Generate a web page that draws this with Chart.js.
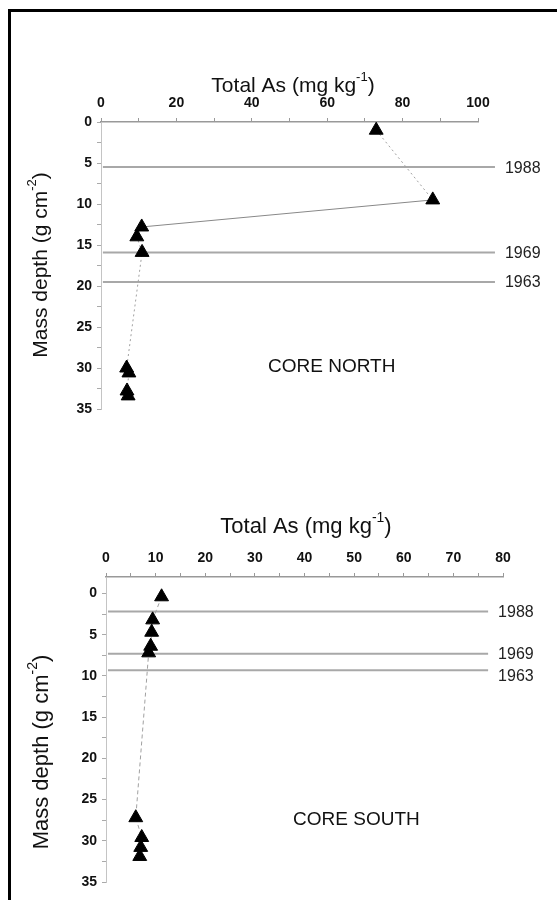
<!DOCTYPE html>
<html>
<head>
<meta charset="utf-8">
<script src="https://cdn.jsdelivr.net/npm/chart.js@4.4.1/dist/chart.umd.min.js"></script>
<style>
  html, body { margin: 0; padding: 0; background: #fff; }
  body { width: 557px; height: 900px; position: relative; overflow: hidden; }
  #frame { position: absolute; left: 8px; top: 9px; width: 600px; height: 1000px;
           border-top: 3px solid #000; border-left: 3px solid #000; }
  canvas { position: absolute; left: 0; }
  #north { top: 0; }
  #south { top: 440px; }
</style>
</head>
<body>
<div id="frame"></div>
<canvas id="north" width="557" height="440"></canvas>
<canvas id="south" width="557" height="460"></canvas>
<script>
// core north: total As vs mass depth
const northAs    = [73, 88, 10.8, 9.5, 10.9, 6.8, 7.4, 6.9, 7.2];
const northDepth = [1.0, 9.5, 12.8, 14.0, 15.9, 30.0, 30.6, 32.8, 33.4];
// core south
const southAs    = [11.2, 9.4, 9.2, 9.0, 8.6, 6.0, 7.2, 7.0, 6.8];
const southDepth = [0.4, 3.2, 4.7, 6.4, 7.2, 27.2, 29.6, 30.8, 31.9];

// dating horizons
const years = ['1988', '1969', '1963'];
const northYearDepth = [5.5, 15.9, 19.5];
const southYearDepth = [2.2, 7.3, 9.3];
const northYearSpan = [0.5, 104.5];
const southYearSpan = [0.4, 77];

// ticks
const northAsTicks = [0, 10, 20, 30, 40, 50, 60, 70, 80, 90, 100];
const southAsTicks = [0, 5, 10, 15, 20, 25, 30, 35, 40, 45, 50, 55, 60, 65, 70, 75, 80];
const depthTicks = [0, 2.5, 5, 7.5, 10, 12.5, 15, 17.5, 20, 22.5, 25, 27.5, 30, 32.5, 35];

const FONT = "'Liberation Sans', Arial, sans-serif";

function drawRich(ctx, parts, cx, cy, size, angle) {
  const supSize = Math.round(size * 0.62);
  const widths = parts.map(([t, sup]) => {
    ctx.font = `${sup ? supSize : size}px ${FONT}`;
    return ctx.measureText(t).width;
  });
  const total = widths.reduce((a, b) => a + b, 0);
  ctx.save();
  ctx.translate(cx, cy);
  ctx.rotate(angle);
  ctx.textBaseline = 'middle';
  ctx.textAlign = 'left';
  ctx.fillStyle = '#111';
  let x = -total / 2;
  parts.forEach(([t, sup], i) => {
    ctx.font = `${sup ? supSize : size}px ${FONT}`;
    ctx.fillText(t, x, sup ? -size * 0.42 : 0);
    x += widths[i];
  });
  ctx.restore();
}

// axis titles with superscripts, year labels and core name
const annotations = {
  id: 'annotations',
  afterDraw(chart, args, opts) {
    const ctx = chart.ctx;
    const { x: xs, y: ys } = chart.scales;
    opts.titles.forEach(t => drawRich(ctx, t.parts, t.x, t.y, t.size, t.angle || 0));

    ctx.save();
    ctx.fillStyle = '#222';
    ctx.textAlign = 'left';
    ctx.textBaseline = 'middle';
    ctx.font = `16px ${FONT}`;
    const endX = xs.getPixelForValue(opts.yearSpan[1]) + 10;
    let lastY = -100;
    years.forEach((yr, i) => {
      // keep labels of close horizons from touching
      const y = Math.max(ys.getPixelForValue(opts.yearDepth[i]) + 1, lastY + 22);
      ctx.fillText(yr, endX, y);
      lastY = y;
    });
    ctx.font = `19px ${FONT}`;
    ctx.fillStyle = '#111';
    ctx.fillText(opts.core.text, xs.getPixelForValue(opts.core.x), ys.getPixelForValue(opts.core.y));
    ctx.restore();
  }
};

function makeChart(el, cfg) {
  const seriesData = cfg.as.map((x, i) => ({ x, y: cfg.depth[i] }));
  const yearSets = cfg.yearDepth.map(d => ({
    data: [{ x: cfg.yearSpan[0], y: d }, { x: cfg.yearSpan[1], y: d }],
    showLine: true,
    borderColor: '#a8a8a8',
    borderWidth: 2,
    pointRadius: 0,
    clip: false
  }));

  return new Chart(el, {
    type: 'scatter',
    data: {
      datasets: [{
        data: seriesData,
        showLine: true,
        borderColor: '#a0a0a0',
        borderWidth: 1,
        borderDash: cfg.dash,
        segment: {
          borderDash: ctx => ctx.p0DataIndex === cfg.solidSegment ? [] : cfg.dash,
          borderColor: ctx => ctx.p0DataIndex === cfg.solidSegment ? '#888' : '#a0a0a0'
        },
        pointStyle: 'triangle',
        pointRadius: 8,
        pointBackgroundColor: '#000',
        pointBorderColor: '#000',
        pointBorderWidth: 1
      }, ...yearSets]
    },
    options: {
      responsive: false,
      animation: false,
      devicePixelRatio: 1,
      events: [],
      layout: { padding: cfg.padding },
      plugins: {
        legend: { display: false },
        tooltip: { enabled: false },
        annotations: {
          titles: cfg.titles,
          yearSpan: cfg.yearSpan,
          yearDepth: cfg.yearDepth,
          core: cfg.core
        }
      },
      scales: {
        x: {
          type: 'linear',
          position: 'top',
          min: cfg.xMin,
          max: cfg.xMax,
          afterBuildTicks: axis => { axis.ticks = cfg.xTicks.map(v => ({ value: v })); },
          afterFit: axis => { axis.height = cfg.xAxisHeight; },
          ticks: {
            autoSkip: false,
            maxRotation: 0,
            padding: 6,
            color: '#111',
            font: { family: FONT, size: 14, weight: 'bold' },
            callback: v => (v % cfg.xLabelStep === 0 ? v : '')
          },
          grid: { drawOnChartArea: false, tickLength: 4, color: '#999' },
          border: { color: '#999', width: 1.5 }
        },
        y: {
          type: 'linear',
          reverse: true,
          min: cfg.yMin,
          max: 35,
          afterBuildTicks: axis => { axis.ticks = depthTicks.map(v => ({ value: v })); },
          afterFit: axis => { axis.width = cfg.yAxisWidth; },
          ticks: {
            autoSkip: false,
            padding: 5,
            color: '#111',
            font: { family: FONT, size: 14, weight: 'bold' },
            callback: v => (v % 5 === 0 ? v : '')
          },
          grid: { drawOnChartArea: false, tickLength: 4, color: '#aaa' },
          border: { color: '#c4c4c4', width: 1 }
        }
      }
    },
    plugins: [annotations]
  });
}

makeChart(document.getElementById('north'), {
  as: northAs,
  depth: northDepth,
  dash: [2, 3],
  solidSegment: 1,
  yearDepth: northYearDepth,
  yearSpan: northYearSpan,
  xMin: 0, xMax: 100, xTicks: northAsTicks, xLabelStep: 20,
  yMin: 0,
  xAxisHeight: 122, yAxisWidth: 101,
  padding: { top: 0, left: 0, right: 79, bottom: 31 },
  core: { text: 'CORE NORTH', x: 44.3, y: 29.8 },
  titles: [
    { parts: [['Total As (mg kg', 0], ['-1', 1], [')', 0]], x: 293, y: 86, size: 21 },
    { parts: [['Mass depth (g cm', 0], ['-2', 1], [')', 0]], x: 41, y: 265, size: 21, angle: -Math.PI / 2 }
  ]
});

makeChart(document.getElementById('south'), {
  as: southAs,
  depth: southDepth,
  dash: [4, 3],
  solidSegment: -1,
  yearDepth: southYearDepth,
  yearSpan: southYearSpan,
  xMin: 0, xMax: 80, xTicks: southAsTicks, xLabelStep: 10,
  yMin: -2,
  xAxisHeight: 137, yAxisWidth: 106,
  padding: { top: 0, left: 0, right: 54, bottom: 18 },
  core: { text: 'CORE SOUTH', x: 37.7, y: 27.4 },
  titles: [
    { parts: [['Total As (mg kg', 0], ['-1', 1], [')', 0]], x: 306, y: 87, size: 22 },
    { parts: [['Mass depth (g cm', 0], ['-2', 1], [')', 0]], x: 42, y: 312, size: 22, angle: -Math.PI / 2 }
  ]
});
</script>
</body>
</html>
